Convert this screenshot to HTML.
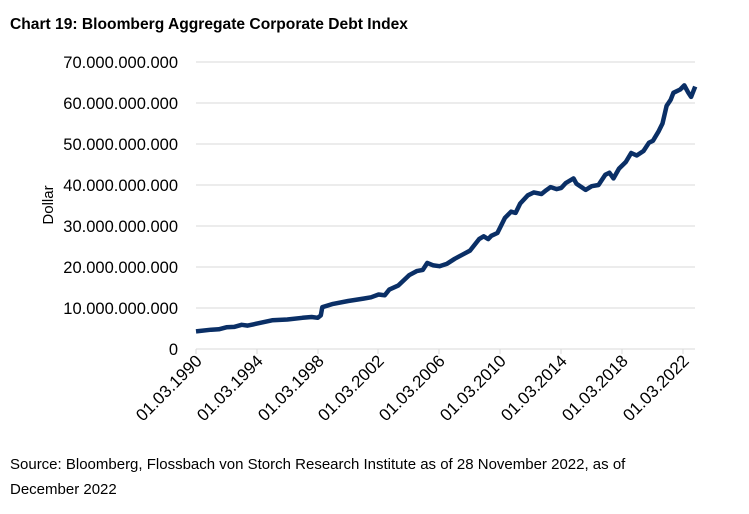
<!DOCTYPE html>
<html><head><meta charset="utf-8"><style>
body{margin:0;background:#fff;width:749px;height:514px;overflow:hidden;font-family:"Liberation Sans",sans-serif}
.t{position:absolute;left:10px;top:16px;font-weight:bold;font-size:15.6px;color:#000}
.s{position:absolute;left:10px;top:452px;font-size:15px;line-height:25px;color:#000;white-space:nowrap}
</style></head><body>
<div class="t">Chart 19: Bloomberg Aggregate Corporate Debt Index</div>
<svg width="749" height="514" style="position:absolute;left:0;top:0">
<g stroke="#d9d9d9" stroke-width="1">
<line x1="196" x2="695" y1="62" y2="62"/><line x1="196" x2="695" y1="103" y2="103"/>
<line x1="196" x2="695" y1="144" y2="144"/><line x1="196" x2="695" y1="185" y2="185"/>
<line x1="196" x2="695" y1="226" y2="226"/><line x1="196" x2="695" y1="267" y2="267"/>
<line x1="196" x2="695" y1="308" y2="308"/><line x1="196" x2="695" y1="349" y2="349"/>
<line x1="196" x2="196" y1="349" y2="354"/><line x1="257" x2="257" y1="349" y2="354"/>
<line x1="318" x2="318" y1="349" y2="354"/><line x1="378" x2="378" y1="349" y2="354"/>
<line x1="439" x2="439" y1="349" y2="354"/><line x1="500" x2="500" y1="349" y2="354"/>
<line x1="561" x2="561" y1="349" y2="354"/><line x1="622" x2="622" y1="349" y2="354"/>
<line x1="683" x2="683" y1="349" y2="354"/>
</g>
<g font-size="16.5" text-anchor="end" fill="#000">
<text x="178" y="68">70.000.000.000</text><text x="178" y="109">60.000.000.000</text>
<text x="178" y="150">50.000.000.000</text><text x="178" y="191">40.000.000.000</text>
<text x="178" y="232">30.000.000.000</text><text x="178" y="273">20.000.000.000</text>
<text x="178" y="314">10.000.000.000</text><text x="178" y="355">0</text>
</g>
<text transform="translate(53,205) rotate(-90)" font-size="15" text-anchor="middle">Dollar</text>
<g font-size="17" text-anchor="end">
<text transform="translate(203,362) rotate(-45)">01.03.1990</text>
<text transform="translate(264,362) rotate(-45)">01.03.1994</text>
<text transform="translate(325,362) rotate(-45)">01.03.1998</text>
<text transform="translate(385,362) rotate(-45)">01.03.2002</text>
<text transform="translate(446,362) rotate(-45)">01.03.2006</text>
<text transform="translate(507,362) rotate(-45)">01.03.2010</text>
<text transform="translate(568,362) rotate(-45)">01.03.2014</text>
<text transform="translate(629,362) rotate(-45)">01.03.2018</text>
<text transform="translate(690,362) rotate(-45)">01.03.2022</text>
</g>
<polyline id="ln" fill="none" stroke="#0a2f66" stroke-width="4.5" stroke-linejoin="round" points=""/>
</svg>
<div class="s">Source: Bloomberg, Flossbach von Storch Research Institute as of 28 November 2022, as of<br>December 2022</div>
<script>
var d=[[1990,4.3],[1991,4.7],[1991.5,4.8],[1992,5.3],[1992.5,5.4],[1993,5.9],[1993.4,5.7],[1994,6.2],[1995,7],[1996,7.2],[1997,7.6],[1997.6,7.8],[1998,7.6],[1998.2,8.2],[1998.3,10.2],[1999,11],[2000,11.7],[2001,12.3],[2001.5,12.6],[2002,13.3],[2002.4,13.1],[2002.7,14.5],[2003.3,15.5],[2004,18],[2004.5,19],[2004.9,19.3],[2005.2,21],[2005.6,20.4],[2006,20.2],[2006.5,20.8],[2007,22],[2007.5,23],[2008,24],[2008.6,26.8],[2008.9,27.5],[2009.2,26.8],[2009.4,27.6],[2009.8,28.3],[2010.3,32],[2010.7,33.5],[2011,33.2],[2011.3,35.5],[2011.8,37.5],[2012.2,38.2],[2012.7,37.8],[2013,38.7],[2013.3,39.5],[2013.7,39],[2014,39.3],[2014.3,40.5],[2014.8,41.6],[2015,40.3],[2015.6,38.8],[2016,39.7],[2016.5,40],[2017,42.5],[2017.3,43],[2017.6,41.6],[2018,44],[2018.5,45.6],[2018.9,47.8],[2019.3,47.2],[2019.8,48.3],[2020.2,50.3],[2020.5,50.8],[2020.9,53],[2021.2,55],[2021.5,59.3],[2021.8,60.8],[2022,62.5],[2022.5,63.3],[2022.8,64.3],[2023.1,62.5],[2023.3,61.5],[2023.6,64]];
document.getElementById('ln').setAttribute('points',d.map(function(p){var y=p[0];if(y>2016)y=2016+(y-2016)*6.8/7.6;return (196+(y-1990)*15.22).toFixed(1)+','+(349-p[1]*4.1).toFixed(1)}).join(' '));
</script>
</body></html>
